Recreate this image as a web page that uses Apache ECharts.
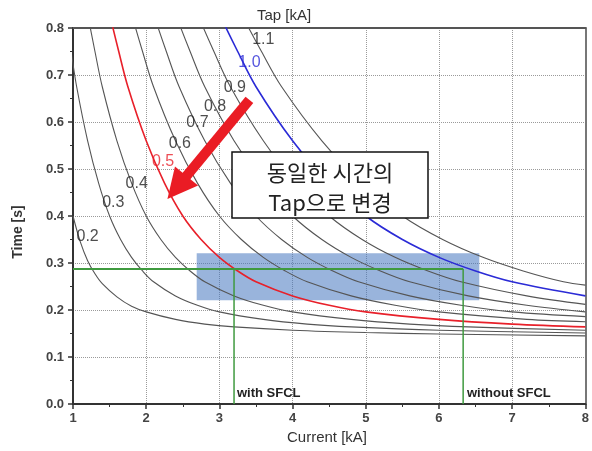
<!DOCTYPE html>
<html>
<head>
<meta charset="utf-8">
<script src="https://cdn.jsdelivr.net/npm/echarts@6/dist/echarts.min.js"></script>
<style>
  html, body { margin: 0; padding: 0; background: #fff; }
  #main { width: 592px; height: 451px; }
</style>
</head>
<body>
<div id="main"></div>
<script>
// tap curves, [current kA, time s]
var tap02 = [[1.0,0.40],[1.1,0.345],[1.2,0.305],[1.3,0.277],[1.4,0.256],[1.6,0.228],[1.8,0.208],[2.0,0.196],[2.4,0.18],[2.8,0.17],[3.2,0.164],[4.0,0.157],[5.0,0.152],[6.0,0.149],[8.0,0.145]];
var tap03 = [[0.9,0.83],[0.975,0.75],[1.05,0.675],[1.2,0.56],[1.35,0.47],[1.5,0.40],[1.65,0.35],[1.8,0.312],[1.95,0.283],[2.1,0.26],[2.4,0.23],[2.7,0.21],[3.0,0.196],[3.6,0.18],[4.2,0.17],[4.8,0.164],[6.0,0.157],[8.0,0.151]];
var tap04 = [[1.12,0.90],[1.2,0.83],[1.3,0.75],[1.4,0.675],[1.6,0.56],[1.8,0.47],[2.0,0.40],[2.2,0.35],[2.4,0.312],[2.6,0.283],[2.8,0.26],[3.2,0.23],[3.6,0.21],[4.0,0.196],[4.8,0.18],[5.6,0.17],[6.4,0.164],[8.0,0.157]];
var tap05 = [[1.4,0.90],[1.5,0.83],[1.625,0.75],[1.75,0.675],[2.0,0.56],[2.25,0.47],[2.5,0.40],[2.75,0.35],[3.0,0.312],[3.25,0.283],[3.5,0.26],[4.0,0.23],[4.5,0.21],[5.0,0.196],[6.0,0.18],[7.0,0.17],[8.0,0.164]];
var tap06 = [[1.68,0.90],[1.8,0.83],[1.95,0.75],[2.1,0.675],[2.4,0.56],[2.7,0.47],[3.0,0.40],[3.3,0.35],[3.6,0.312],[3.9,0.283],[4.2,0.26],[4.8,0.23],[5.4,0.21],[6.0,0.196],[7.2,0.18],[8.0,0.175]];
var tap07 = [[1.96,0.90],[2.1,0.83],[2.275,0.75],[2.45,0.675],[2.8,0.56],[3.15,0.47],[3.5,0.40],[3.85,0.35],[4.2,0.312],[4.55,0.283],[4.9,0.26],[5.6,0.23],[6.3,0.21],[7.0,0.196],[8.0,0.186]];
var tap08 = [[2.24,0.90],[2.4,0.83],[2.6,0.75],[2.8,0.675],[3.2,0.56],[3.6,0.47],[4.0,0.40],[4.4,0.35],[4.8,0.312],[5.2,0.283],[5.6,0.26],[6.4,0.23],[7.2,0.21],[8.0,0.196]];
var tap09 = [[2.52,0.90],[2.7,0.83],[2.925,0.75],[3.15,0.675],[3.6,0.56],[4.05,0.47],[4.5,0.40],[4.95,0.35],[5.4,0.312],[5.85,0.283],[6.3,0.26],[7.2,0.23],[8.0,0.212]];
var tap10 = [[2.8,0.90],[3.0,0.83],[3.25,0.75],[3.5,0.675],[4.0,0.56],[4.5,0.47],[5.0,0.40],[5.5,0.35],[6.0,0.312],[6.5,0.283],[7.0,0.26],[8.0,0.23]];
var tap11 = [[3.08,0.90],[3.3,0.83],[3.575,0.75],[3.85,0.675],[4.4,0.56],[4.95,0.47],[5.5,0.40],[6.05,0.35],[6.6,0.312],[7.15,0.283],[7.7,0.26],[8.0,0.253]];

var tapNames = ['0.2','0.3','0.4','0.5','0.6','0.7','0.8','0.9','1.0','1.1'];
var tapCurves = [tap02,tap03,tap04,tap05,tap06,tap07,tap08,tap09,tap10,tap11];
var tapColors = ['#555','#555','#555','#e8202a','#555','#555','#555','#555','#2b2bd6','#555'];
// where each tap label sits (data coords)
var tapLabelPos = [[1.20,0.357],[1.55,0.428],[1.87,0.468],[2.23,0.515],[2.46,0.555],[2.70,0.598],[2.94,0.632],[3.21,0.674],[3.41,0.726],[3.60,0.776]];

var greenLevel = 0.287;
var withSFCL = 3.2;
var withoutSFCL = 6.33;
var boxX = [2.69, 6.55];
var boxY = [0.221, 0.321];
var arrowFrom = [3.41, 0.647];
var arrowTo = [2.29, 0.436];

var fontEn = 'Liberation Sans, Arial, sans-serif';
var fontKr = '"Noto Sans CJK KR", sans-serif';

var chart = echarts.init(document.getElementById('main'));

var series = [];
for (var i = 0; i < tapCurves.length; i++) {
    var hi = (tapNames[i] == '0.5' || tapNames[i] == '1.0');
    series.push({
        name: 'tap' + tapNames[i],
        type: 'line',
        data: tapCurves[i],
        smooth: 0.35,
        showSymbol: false,
        clip: true,
        silent: true,
        z: hi ? 4 : 3,
        lineStyle: { color: tapColors[i], width: hi ? 1.6 : 1.1 }
    });
}

// shaded band
series.push({
    type: 'line', data: [], silent: true, z: 6,
    markArea: {
        silent: true,
        itemStyle: { color: 'rgba(70,118,192,0.55)' },
        data: [[{ coord: [boxX[0], boxY[0]] }, { coord: [boxX[1], boxY[1]] }]]
    }
});

// green guide lines
var greenH = [[1, greenLevel], [withoutSFCL, greenLevel]];
var greenV1 = [[withSFCL, 0], [withSFCL, greenLevel]];
var greenV2 = [[withoutSFCL, 0], [withoutSFCL, greenLevel]];
[greenH, greenV1, greenV2].forEach(function (d, k) {
    series.push({
        type: 'line', data: d, showSymbol: false, silent: true, z: 7,
        lineStyle: { color: '#3f9a3f', width: k == 0 ? 2 : 1.5 }
    });
});

// tap labels
series.push({
    type: 'scatter', silent: true, z: 8,
    symbolSize: 0,
    data: tapLabelPos.map(function (p, k) {
        return {
            value: p,
            label: {
                show: true, position: 'inside', formatter: tapNames[k],
                color: tapColors[k] == '#555' ? '#222' : tapColors[k],
                fontSize: 16, fontFamily: fontEn
            }
        };
    })
});

var axisText = { color: '#444', fontSize: 13, fontFamily: fontEn, fontWeight: 'bold' };

chart.setOption({
    animation: false,
    grid: { left: 73, right: 5, top: 28, bottom: 47 },
    xAxis: [{
        type: 'value', min: 1, max: 8, interval: 1,
        axisLine: { lineStyle: { color: '#333', width: 2 } },
        axisTick: { show: true, inside: false, length: 5, lineStyle: { color: '#333', width: 1.5 } },
        minorTick: { show: true, splitNumber: 2, length: 3, lineStyle: { color: '#333' } },
        splitLine: { show: true, lineStyle: { color: '#9a9a9a', type: 'dotted', width: 1 } },
        axisLabel: Object.assign({ margin: 8 }, axisText)
    }, {
        type: 'value', min: 1, max: 8, position: 'top',
        axisLine: { show: true, onZero: false, lineStyle: { color: '#555', width: 2 } },
        axisTick: { show: false }, axisLabel: { show: false }, splitLine: { show: false }
    }],
    yAxis: [{
        type: 'value', min: 0, max: 0.8, interval: 0.1,
        axisLine: { show: true, lineStyle: { color: '#333', width: 2 } },
        axisTick: { show: true, length: 5, lineStyle: { color: '#333', width: 1.5 } },
        minorTick: { show: true, splitNumber: 2, length: 3, lineStyle: { color: '#333' } },
        splitLine: { show: true, lineStyle: { color: '#9a9a9a', type: 'dotted', width: 1 } },
        axisLabel: Object.assign({ margin: 9, formatter: function (v) { return v.toFixed(1); } }, axisText)
    }, {
        type: 'value', min: 0, max: 0.8, position: 'right',
        axisLine: { show: true, onZero: false, lineStyle: { color: '#777', width: 2 } },
        axisTick: { show: false }, axisLabel: { show: false }, splitLine: { show: false }
    }],
    series: series
});

// annotations placed from data coords
var tail = chart.convertToPixel({ gridIndex: 0 }, arrowFrom);
var tip = chart.convertToPixel({ gridIndex: 0 }, arrowTo);
var dx = tip[0] - tail[0], dy = tip[1] - tail[1];
var len = Math.sqrt(dx * dx + dy * dy);
var ux = dx / len, uy = dy / len;
var nx = -uy, ny = ux;
var headLen = 30, headHalf = 15;
var base = [tip[0] - ux * headLen, tip[1] - uy * headLen];

chart.setOption({
    graphic: [
        { type: 'line', z: 20, shape: { x1: tail[0], y1: tail[1], x2: base[0] + ux * 2, y2: base[1] + uy * 2 },
          style: { stroke: '#ea1c24', lineWidth: 10 } },
        { type: 'polygon', z: 20, shape: { points: [tip, [base[0] + nx * headHalf, base[1] + ny * headHalf], [base[0] - nx * headHalf, base[1] - ny * headHalf]] },
          style: { fill: '#ea1c24' } },
        { type: 'rect', z: 21, shape: { x: 232, y: 152, width: 196, height: 66 },
          style: { fill: '#fff', stroke: '#111', lineWidth: 1.5 } },
        { type: 'text', z: 22, x: 330, y: 173,
          style: { text: '동일한 시간의', font: '22px ' + fontKr, fill: '#222', align: 'center', verticalAlign: 'middle' } },
        { type: 'text', z: 22, x: 330, y: 203,
          style: { text: 'Tap으로 변경', font: '22px ' + fontKr, fill: '#222', align: 'center', verticalAlign: 'middle' } },
        { type: 'text', z: 22, left: 237, top: 387,
          style: { text: 'with SFCL', font: 'bold 13px ' + fontEn, fill: '#222' } },
        { type: 'text', z: 22, left: 467, top: 387,
          style: { text: 'without SFCL', font: 'bold 13px ' + fontEn, fill: '#222' } },
        { type: 'text', z: 22, left: 257, top: 8,
          style: { text: 'Tap [kA]', font: '15px ' + fontEn, fill: '#333' } },
        { type: 'text', z: 22, left: 287, top: 430,
          style: { text: 'Current [kA]', font: '15px ' + fontEn, fill: '#333' } },
        { type: 'text', z: 22, x: 18, y: 232, rotation: Math.PI / 2,
          style: { text: 'Time [s]', font: 'bold 14px ' + fontEn, fill: '#333', align: 'center', verticalAlign: 'middle' } }
    ]
});
</script>
</body>
</html>
